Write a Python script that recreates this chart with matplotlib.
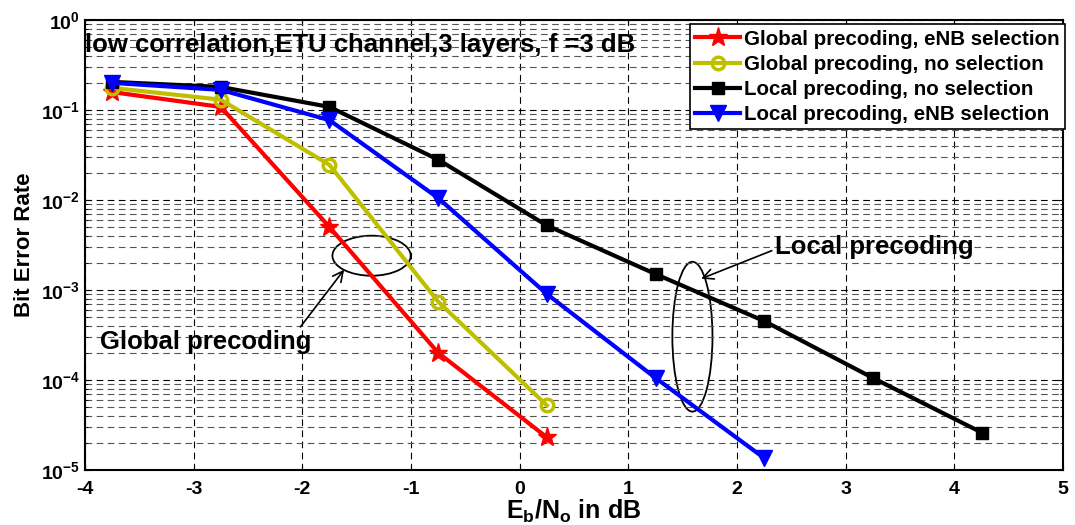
import matplotlib
matplotlib.use('Agg')
import matplotlib.pyplot as plt
from matplotlib.patches import Ellipse
from matplotlib.ticker import LogLocator, NullFormatter

plt.rcParams['font.family'] = ['Liberation Sans', 'DejaVu Sans']
plt.rcParams['font.weight'] = 'bold'
plt.rcParams['axes.unicode_minus'] = False
plt.rcParams['mathtext.fontset'] = 'custom'
plt.rcParams['mathtext.rm'] = 'Liberation Sans:bold'
plt.rcParams['mathtext.bf'] = 'Liberation Sans:bold'
plt.rcParams['mathtext.it'] = 'Liberation Sans:bold'

# Eb/No points (dB)
snr = [-3.75, -2.75, -1.75, -0.75, 0.25, 1.25, 2.25, 3.25, 4.25]

global_enb = [0.158, 0.108, 5.0e-3, 2.0e-4, 2.3e-5]
global_nosel = [0.176, 0.13, 0.0245, 7.4e-4, 5.2e-5]
local_nosel = [0.205, 0.18, 0.108, 0.028, 5.2e-3, 1.5e-3, 4.5e-4, 1.05e-4, 2.6e-5]
local_enb = [0.2, 0.167, 0.077, 0.0105, 9.0e-4, 1.05e-4, 1.35e-5]

labels = ['Global precoding, eNB selection', 'Global precoding, no selection',
          'Local precoding, no selection', 'Local precoding, eNB selection']

fig = plt.figure(figsize=(10.75, 5.25), dpi=100)
ax = fig.add_axes([0.079, 0.105, 0.910, 0.857])

ax.semilogy(snr[:5], global_enb, color='red', lw=3, marker='*', ms=14, label=labels[0])
ax.semilogy(snr[:5], global_nosel, color='#bfbf00', lw=3, marker='o', ms=9,
            mfc='none', mew=2.5, label=labels[1])
ax.semilogy(snr, local_nosel, color='black', lw=3, marker='s', ms=9,
            mfc='black', mec='black', label=labels[2])
ax.semilogy(snr[:7], local_enb, color='blue', lw=3, marker='v', ms=12, label=labels[3])

ax.set_xlim(-4, 5)
ax.set_ylim(1e-5, 1)
ax.set_xticks(range(-4, 6))
ax.yaxis.set_major_locator(LogLocator(base=10, numticks=10))
ax.yaxis.set_minor_locator(LogLocator(base=10, subs=range(2, 10), numticks=10))
ax.yaxis.set_minor_formatter(NullFormatter())
ax.grid(True, which='major', ls=(0, (6, 4)), color='black', lw=0.8)
ax.grid(True, which='minor', axis='y', ls=(0, (6, 4)), color='#555555', lw=0.8)
ax.tick_params(labelsize=14, direction='in', which='both', top=True, right=True)
ax.tick_params(axis='x', pad=8)
for s in ax.spines.values():
    s.set_linewidth(1.5)

ax.set_xlabel(r'E$_\mathrm{b}$/N$_\mathrm{o}$ in dB', fontsize=18, fontweight='bold', labelpad=0)
ax.set_ylabel('Bit Error Rate', fontsize=16, fontweight='bold', labelpad=4)

ax.text(0.0, 0.945, 'low correlation,ETU channel,3 layers, f =3 dB',
        transform=ax.transAxes, fontsize=18.5, fontweight='bold', va='center')

leg = ax.legend(loc='upper right', bbox_to_anchor=(1.002, 0.99), fontsize=14.8,
                frameon=True, fancybox=False, edgecolor='black', borderaxespad=0.0,
                handlelength=2.2, labelspacing=0.3, borderpad=0.25, handletextpad=0.2)
leg.get_frame().set_linewidth(1.2)
leg.get_frame().set_alpha(1)

# annotations
ax.add_patch(Ellipse((0.293, 0.476), 0.08, 0.089, transform=ax.transAxes,
                     fill=False, color='black', lw=1.3))
ax.add_patch(Ellipse((0.621, 0.296), 0.041, 0.333, transform=ax.transAxes,
                     fill=False, color='black', lw=1.3))
ax.annotate('Global precoding', xy=(0.265, 0.445), xytext=(0.015, 0.285),
            xycoords='axes fraction', textcoords='axes fraction',
            fontsize=18.5, fontweight='bold', va='center',
            arrowprops=dict(arrowstyle='->', color='black', lw=1.2,
                            shrinkA=0, shrinkB=0, relpos=(0.94, 1.0)))
ax.annotate('Local precoding', xy=(0.630, 0.425), xytext=(0.705, 0.495),
            xycoords='axes fraction', textcoords='axes fraction',
            fontsize=18.5, fontweight='bold', va='center',
            arrowprops=dict(arrowstyle='->', color='black', lw=1.2,
                            shrinkA=0, shrinkB=0, relpos=(0.0, 0.4)))

fig.savefig('out.png', dpi=100)
